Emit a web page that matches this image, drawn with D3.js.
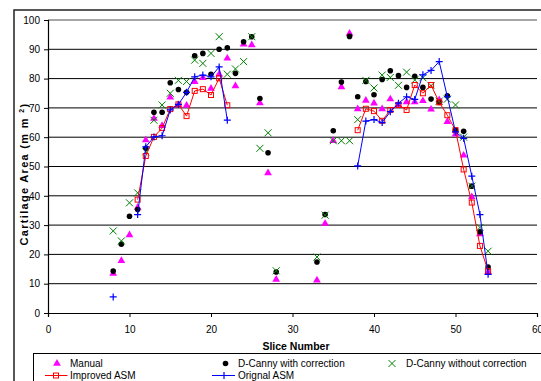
<!DOCTYPE html>
<html>
<head>
<meta charset="utf-8">
<script src="https://cdn.jsdelivr.net/npm/d3@7"></script>
<style>
  html, body { margin: 0; padding: 0; background: #fff; }
  svg { display: block; font-family: "Liberation Sans", Arial, sans-serif; }
</style>
</head>
<body>
<svg id="chart" width="541" height="381"></svg>
<script>
// slice numbers that carry a measurement (gap between 28 and 33)
var slices = [8, 9, 10, 11, 12, 13, 14, 15, 16, 17, 18, 19, 20, 21, 22, 23, 24, 25, 26, 27, 28,
              33, 34, 35, 36, 37, 38, 39, 40, 41, 42, 43, 44, 45, 46, 47, 48, 49, 50, 51, 52, 53, 54];

var manual = [13.5, 17.8, 26.6, 36, 59, 66.4, 63.9, 73.6, 71, 70.8, 78.9, 80.3, 76.6, 81.5, 86.9, 77.5, 91.7, 91.5, 71.7, 47.8, 11.4,
              11.2, 30.5, 58.8, 77.1, 95.4, 69.6, 72.5, 71.6, 69.6, 73, 71, 72, 72, 72.4, 69.5, 72.7, 65.3, 61, 53.8, 39.6, 27, 14];

var cannyWith = [14.3, 23.5, 33, 35.3, 56.2, 68.5, 68.5, 78.6, 76.3, 75.3, 87.8, 88.6, 81.5, 90, 90.5, 81.8, 92.6, 94.3, 73.2, 54.7, 14,
                 17.4, 33.6, 62.2, 78.8, 94.4, 73.8, 79, 74.5, 79.7, 82.7, 81, 77, 80.8, 77, 73, 71.9, 74.1, 62.4, 62, 43.3, 27.7, 15.7];

var cannyWithout = [28, 24.6, 37.6, 41, 55, 65.8, 71, 75, 79.4, 79, 86.3, 85.2, 88.6, 94.3, 81.5, 83.3, 85.8, 94.3, 56.2, 61.5, 14.4,
                    19.1, 33.4, 58.8, 58.8, 58.8, 66, 79.4, 76.8, 81.2, 80.4, 77.7, 82.2, 79.5, 80.3, 77.6, 72.3, 73, 71, 60, 43.3, 29.2, 21.1];

var improvedASM = [null, null, null, 38.7, 53.6, 60.1, 63.1, 69.6, 71.2, 67.2, 75.8, 76.4, 74.4, 80.1, 70.9, null, null, null, null, null, null,
                   null, null, null, null, null, 62.4, 69.7, 68.9, 65.6, 69.3, 71, 69.3, 77.8, 75, 77.8, 71.9, 67.5, 62.4, 49, 37.7, 22.9, 14.3];

var originalASM = [5.5, null, null, 33.6, 56.7, 60.1, 60.5, 69.3, 71.2, 75.3, 80.6, 81.2, 80.6, 84, 65.8, null, null, null, null, null, null,
                   null, null, null, null, null, 50.2, 65.5, 66, 65, 68.7, 71.6, 73.8, 72.9, 81.3, 82.8, 85.8, 73.8, 61.8, 59.6, 46.7, 33.6, 13.2];

var xTicks = [0, 10, 20, 30, 40, 50, 60];
var yTicks = [0, 10, 20, 30, 40, 50, 60, 70, 80, 90, 100];

var svg = d3.select("#chart");
var x = d3.scaleLinear().domain([0, 60]).range([48, 537]);
var y = d3.scaleLinear().domain([0, 100]).range([313, 20]);

function pts(vals) {
  return slices.map(function (s, i) { return { s: s, v: vals[i] }; });
}

// outer chart frame
svg.append("rect").attr("x", 14).attr("y", 10).attr("width", 600).attr("height", 400)
  .attr("fill", "none").attr("stroke", "#222").attr("stroke-width", 1.5);

// gridlines
svg.append("g").selectAll("line").data(yTicks.slice(1, -1)).join("line")
  .attr("x1", x(0)).attr("x2", x(60))
  .attr("y1", function (d) { return y(d); }).attr("y2", function (d) { return y(d); })
  .attr("stroke", "#000").attr("stroke-width", 1);
svg.append("line").attr("x1", x(0)).attr("x2", x(60)).attr("y1", y(100)).attr("y2", y(100))
  .attr("stroke", "#888").attr("stroke-width", 1.5);

// axes
var gy = svg.append("g").attr("transform", "translate(" + x(0) + ",0)")
  .call(d3.axisLeft(y).tickValues(yTicks).tickSize(4).tickPadding(4));
var gx = svg.append("g").attr("transform", "translate(0," + y(0) + ")")
  .call(d3.axisBottom(x).tickValues(xTicks).tickSize(4).tickPadding(9));
[gx, gy].forEach(function (g) {
  g.select(".domain").attr("stroke", "#000").attr("stroke-width", 1.2);
  g.selectAll(".tick line").attr("stroke", "#000");
  g.selectAll("text").attr("font-size", 10).attr("fill", "#000")
    .attr("font-family", "'Liberation Sans', Arial, sans-serif");
});

svg.append("text").attr("x", 296).attr("y", 350).attr("text-anchor", "middle")
  .attr("font-size", 10.5).attr("font-weight", "bold").text("Slice Number");

var yl = svg.append("text").attr("transform", "translate(28,174) rotate(-90)")
  .attr("text-anchor", "middle").attr("font-size", 11).attr("font-weight", "bold")
  .attr("letter-spacing", 1.3);
yl.append("tspan").text("Cartilage Area (m m ");
yl.append("tspan").attr("font-size", 7).attr("dy", -4).text("2");
yl.append("tspan").attr("dy", 4).text(")");

// marker painters
var tri = d3.symbol().type(d3.symbolTriangle).size(26);
function drawTri(g, cx, cy) {
  g.append("path").attr("d", tri()).attr("transform", "translate(" + cx + "," + cy + ")").attr("fill", "#ff00ff");
}
function drawDot(g, cx, cy) {
  g.append("circle").attr("cx", cx).attr("cy", cy).attr("r", 2.8).attr("fill", "#000");
}
function drawX(g, cx, cy) {
  g.append("path").attr("d", "M" + (cx - 3.5) + "," + (cy - 3.5) + "L" + (cx + 3.5) + "," + (cy + 3.5) +
    "M" + (cx - 3.5) + "," + (cy + 3.5) + "L" + (cx + 3.5) + "," + (cy - 3.5))
    .attr("stroke", "#008000").attr("stroke-width", 1).attr("fill", "none");
}
function drawSq(g, cx, cy) {
  g.append("rect").attr("x", cx - 2.5).attr("y", cy - 2.5).attr("width", 5).attr("height", 5)
    .attr("fill", "none").attr("stroke", "#ff0000").attr("stroke-width", 1);
}
function drawPlus(g, cx, cy) {
  g.append("path").attr("d", "M" + (cx - 3.5) + "," + cy + "L" + (cx + 3.5) + "," + cy +
    "M" + cx + "," + (cy - 3.5) + "L" + cx + "," + (cy + 3.5))
    .attr("stroke", "#0000ff").attr("stroke-width", 1.2).attr("fill", "none");
}

var line = d3.line().defined(function (d) { return d.v != null; })
  .x(function (d) { return x(d.s); }).y(function (d) { return y(d.v); });

var series = [
  { vals: manual, mark: drawTri },
  { vals: cannyWith, mark: drawDot },
  { vals: cannyWithout, mark: drawX },
  { vals: improvedASM, mark: drawSq, color: "#ff0000" },
  { vals: originalASM, mark: drawPlus, color: "#0000ff" }
];

series.forEach(function (sr) {
  var g = svg.append("g");
  var data = pts(sr.vals);
  if (sr.color) {
    g.append("path").datum(data).attr("d", line)
      .attr("fill", "none").attr("stroke", sr.color).attr("stroke-width", 1);
  }
  data.forEach(function (d) {
    if (d.v != null) sr.mark(g, x(d.s), y(d.v));
  });
});

// legend
var lg = svg.append("g");
lg.append("rect").attr("x", 33.5).attr("y", 353.5).attr("width", 520).attr("height", 40)
  .attr("fill", "#fff").attr("stroke", "#000").attr("stroke-width", 1);
var legend = [
  { label: "Manual", mark: drawTri, mx: 57, tx: 70, row: 0 },
  { label: "D-Canny with correction", mark: drawDot, mx: 225.5, tx: 238, row: 0 },
  { label: "D-Canny without correction", mark: drawX, mx: 392, tx: 406, row: 0 },
  { label: "Improved ASM", mark: drawSq, mx: 56, tx: 70, row: 1, color: "#ff0000", l0: 45, l1: 67.5 },
  { label: "Orignal ASM", mark: drawPlus, mx: 224, tx: 238, row: 1, color: "#0000ff", l0: 212, l1: 235 }
];
legend.forEach(function (e) {
  var cy = e.row ? 375.5 : 363.5;
  if (e.color) {
    lg.append("line").attr("x1", e.l0).attr("x2", e.l1).attr("y1", cy).attr("y2", cy)
      .attr("stroke", e.color).attr("stroke-width", 1);
  }
  e.mark(lg, e.mx, cy);
  lg.append("text").attr("x", e.tx).attr("y", cy + 3.6).attr("font-size", 10).text(e.label);
});
</script>
</body>
</html>
